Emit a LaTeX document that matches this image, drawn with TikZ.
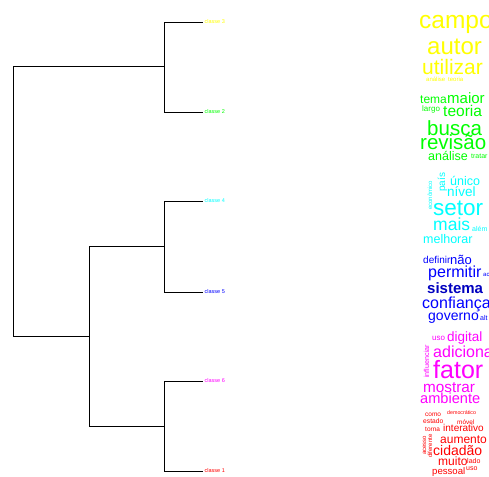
\documentclass[tikz,border=0pt]{standalone}
\usepackage{fontspec}
\setmainfont{Liberation Sans}
\newcommand{\wsz}[1]{\fontsize{#1}{#1}\selectfont}
\definecolor{cl3}{RGB}{255,255,0}
\definecolor{cl2}{RGB}{0,255,0}
\definecolor{cl4}{RGB}{0,255,255}
\definecolor{cl5}{RGB}{0,0,255}
\definecolor{cl6}{RGB}{255,0,255}
\definecolor{cl1}{RGB}{255,0,0}

\begin{document}
\begin{tikzpicture}[x=1pt,y=-1pt,
    branch/.style={draw=black,line width=0.6pt},
    leaf/.style={anchor=west,inner sep=1.5pt,font=\wsz{5.5}},
    word/.style={anchor=base west,inner sep=0pt}]
            \useasboundingbox (0,0) rectangle (489,476);
            \clip (0,0) rectangle (489,476);
            % dendrogram
            \coordinate (m0) at (13,201);
            \coordinate (m32) at (164,66);
            \coordinate (m4561) at (89,336);
            \coordinate (m45) at (164,246);
            \coordinate (m61) at (164,426);
            \node[leaf,text=cl3] (c3) at (203,22) {classe 3};
            \node[leaf,text=cl2] (c2) at (203,112) {classe 2};
            \node[leaf,text=cl4] (c4) at (203,201) {classe 4};
            \node[leaf,text=cl5] (c5) at (203,292) {classe 5};
            \node[leaf,text=cl6] (c6) at (203,381) {classe 6};
            \node[leaf,text=cl1] (c1) at (203,471) {classe 1};
            \draw[branch] (m0) |- (m32);
            \draw[branch] (m0) |- (m4561);
            \draw[branch] (m32) |- (c3.west);
            \draw[branch] (m32) |- (c2.west);
            \draw[branch] (m4561) |- (m45);
            \draw[branch] (m4561) |- (m61);
            \draw[branch] (m45) |- (c4.west);
            \draw[branch] (m45) |- (c5.west);
            \draw[branch] (m61) |- (c6.west);
            \draw[branch] (m61) |- (c1.west);
            % classe 3
            \node[word,text=cl3,font=\wsz{24.5}] (w-campo) at (419,29) {campo};
            \node[word,text=cl3,font=\wsz{24}] (w-autor) at (427,55) {autor};
            \node[word,text=cl3,font=\wsz{21}] (w-utilizar) at (422,75) {utilizar};
            \node[word,text=cl3,font=\wsz{6}] (w-analise3) at (426,82) {análise};
            \node[word,text=cl3,font=\wsz{6}] (w-teoria3) at (448,82) {teoria};
            % classe 2
            \node[word,text=cl2,font=\wsz{12}] (w-tema) at (420,103) {tema};
            \node[word,text=cl2,font=\wsz{15}] (w-maior) at (447,103) {maior};
            \node[word,text=cl2,font=\wsz{8}] (w-largo) at (422,111) {largo};
            \node[word,text=cl2,font=\wsz{15.5}] (w-teoria) at (443,117) {teoria};
            \node[word,text=cl2,font=\wsz{20.5}] (w-busca) at (427,135) {busca};
            \node[word,text=cl2,font=\wsz{20.5}] (w-revisao) at (420,149) {revisão};
            \node[word,text=cl2,font=\wsz{12.5}] (w-analise) at (428,160) {análise};
            \node[word,text=cl2,font=\wsz{7}] (w-trata) at (471,158) {tratar};
            % classe 4
            \node[word,text=cl4,font=\wsz{10},rotate=90] (w-pais) at (445,192) {país};
            \node[word,text=cl4,font=\wsz{6},rotate=90] (w-economico) at (432,210) {econômico};
            \node[word,text=cl4,font=\wsz{12.5}] (w-unico) at (450,185) {único};
            \node[word,text=cl4,font=\wsz{13.5}] (w-nivel) at (447,196) {nível};
            \node[word,text=cl4,font=\wsz{22.5}] (w-setor) at (433,215) {setor};
            \node[word,text=cl4,font=\wsz{17.5}] (w-mais) at (433,230) {mais};
            \node[word,text=cl4,font=\wsz{7}] (w-alem) at (472,231) {além};
            \node[word,text=cl4,font=\wsz{12.5}] (w-melhorar) at (423,243) {melhorar};
            % classe 5
            \node[word,text=cl5,font=\wsz{10}] (w-definir) at (423,263) {definir};
            \node[word,text=cl5,font=\wsz{13}] (w-nao) at (450,264) {não};
            \node[word,text=cl5,font=\wsz{16}] (w-permitir) at (428,277) {permitir};
            \node[word,text=cl5,font=\wsz{6}] (w-ac) at (483,276) {ac};
            \node[word,text=cl5!75!black,font=\wsz{15}\bfseries] (w-sistema) at (427,293) {sistema};
            \node[word,text=cl5,font=\wsz{16}] (w-confianca) at (422,308) {confiança};
            \node[word,text=cl5,font=\wsz{14}] (w-governo) at (428,320) {governo};
            \node[word,text=cl5,font=\wsz{7}] (w-alt) at (480,320) {alt};
            % classe 6
            \node[word,text=cl6,font=\wsz{8}] (w-uso6) at (432,340) {uso};
            \node[word,text=cl6,font=\wsz{13.5}] (w-digital) at (447,341) {digital};
            \node[word,text=cl6,font=\wsz{7.2},rotate=90] (w-influenciar) at (429,378) {influenciar};
            \node[word,text=cl6,font=\wsz{16}] (w-adiciona) at (433,357) {adiciona};
            \node[word,text=cl6,font=\wsz{25}] (w-fator) at (433,378) {fator};
            \node[word,text=cl6,font=\wsz{15.3}] (w-mostrar) at (423,392) {mostrar};
            \node[word,text=cl6,font=\wsz{14.6}] (w-ambiente) at (420,403) {ambiente};
            % classe 1
            \node[word,text=cl1,font=\wsz{6.5}] (w-como) at (425,416) {como};
            \node[word,text=cl1,font=\wsz{5.3}] (w-democratico) at (447,414) {democrático};
            \node[word,text=cl1,font=\wsz{6.7}] (w-estado) at (423,423) {estado};
            \node[word,text=cl1,font=\wsz{6.4}] (w-movel) at (457,424) {móvel};
            \node[word,text=cl1,font=\wsz{6.5}] (w-torna) at (425,431) {torna};
            \node[word,text=cl1,font=\wsz{10}] (w-interativo) at (443,431) {interativo};
            \node[word,text=cl1,font=\wsz{6},rotate=90] (w-acesso) at (426,455) {acesso};
            \node[word,text=cl1,font=\wsz{6},rotate=90] (w-diferente) at (432,458) {diferente};
            \node[word,text=cl1,font=\wsz{12}] (w-aumento) at (440,443) {aumento};
            \node[word,text=cl1,font=\wsz{14}] (w-cidadao) at (433,455) {cidadão};
            \node[word,text=cl1,font=\wsz{12}] (w-muito) at (438,465) {muito};
            \node[word,text=cl1,font=\wsz{7}] (w-lado) at (467,463) {lado};
            \node[word,text=cl1,font=\wsz{9.6}] (w-pessoal) at (432,474) {pessoal};
            \node[word,text=cl1,font=\wsz{7}] (w-uso1) at (466,470) {uso};
        \end{tikzpicture}
\end{document}
